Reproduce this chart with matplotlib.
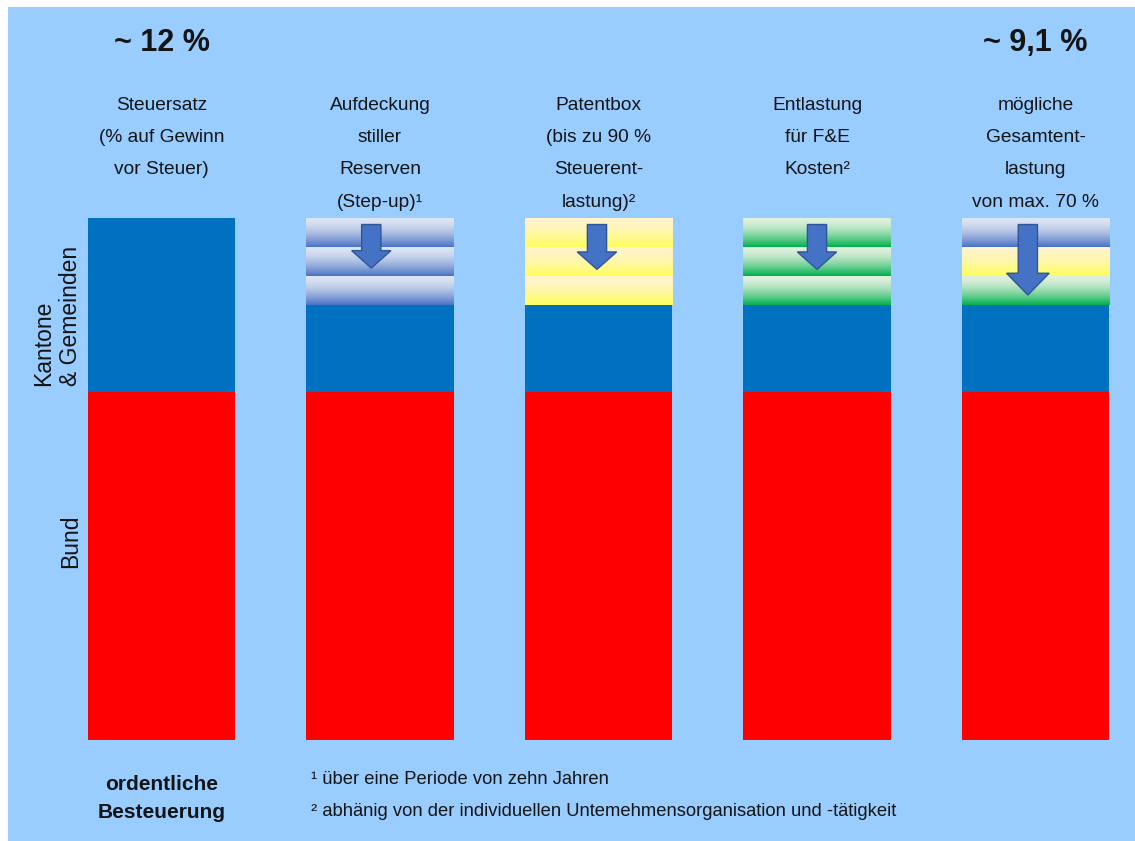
import numpy as np
import matplotlib
matplotlib.use("Agg")
import matplotlib.pyplot as plt
from matplotlib.transforms import blended_transform_factory
from matplotlib.colors import to_rgb

# ---------------- data ----------------
categories = [
    "Steuersatz\n(% auf Gewinn\nvor Steuer)",
    "Aufdeckung\nstiller\nReserven\n(Step-up)¹",
    "Patentbox\n(bis zu 90 %\nSteuerent-\nlastung)²",
    "Entlastung\nfür F&E\nKosten²",
    "mögliche\nGesamtent-\nlastung\nvon max. 70 %",
]
bund = [8.0, 8.0, 8.0, 8.0, 8.0]                 # Bund share (% points)
kantone = [4.0, 2.0, 2.0, 2.0, 2.0]              # Kantone & Gemeinden remaining
entlastung = [0.0, 2.0, 2.0, 2.0, 2.0]           # relief part (striped)
stripe_kinds = [[], ["blue"] * 3, ["yellow"] * 3, ["green"] * 3,
                ["blue", "yellow", "green"]]
top_labels = ["~ 12 %", "", "", "", "~ 9,1 %"]
bottom_label = "ordentliche\nBesteuerung"
footnotes = ["¹ über eine Periode von zehn Jahren",
             "² abhänig von der individuellen Untemehmensorganisation und -tätigkeit"]
ylabels = ["Kantone\n& Gemeinden", "Bund"]

# ---------------- style ----------------
BG = "#99CCFF"
RED = "#FF0000"
BLUE = "#0070C0"
TXT = "#141414"
grad = {
    "blue": ("#DDE5F3", "#4A72C4"),
    "yellow": ("#FFF4CC", "#FFFF5A"),
    "green": ("#E0F1DE", "#00B04E"),
}
FONT = ["Liberation Sans", "DejaVu Sans"]
plt.rcParams["font.family"] = FONT

W, H = 1135, 841
fig = plt.figure(figsize=(W / 100, H / 100), dpi=100, facecolor="white")
# light blue panel with white margin left/top
fig.patches.append(plt.Rectangle((8 / W, 0), 1 - 8 / W, 1 - 7 / H,
                                 transform=fig.transFigure, facecolor=BG,
                                 edgecolor="none", zorder=-10))

x = np.arange(len(categories))
ax = fig.add_axes([74.1 / W, (H - 740) / H, (1122.9 - 74.1) / W, 522 / H])
ax.set_facecolor("none")
bw = 0.673

ax.bar(x, bund, width=bw, color=RED, linewidth=0)
ax.bar(x, kantone, bottom=bund, width=bw, color=BLUE, linewidth=0)

def gradient_img(c_top, c_bot, n=64, gamma=1.6):
    t = np.linspace(0, 1, n) ** gamma
    a, b = np.array(to_rgb(c_top)), np.array(to_rgb(c_bot))
    return (a[None, :] * (1 - t[:, None]) + b[None, :] * t[:, None])[:, None, :]

for i, kinds in enumerate(stripe_kinds):
    if not kinds:
        continue
    h = entlastung[i] / len(kinds)
    base = bund[i] + kantone[i]
    for j, k in enumerate(kinds[::-1]):
        b0 = base + j * h
        bars = ax.bar(x[i], h, bottom=b0, width=bw, color=grad[k][1], linewidth=0)
        p = bars.patches[0]
        im = ax.imshow(gradient_img(*grad[k]), extent=(x[i] - bw / 2, x[i] + bw / 2, b0, b0 + h),
                       origin="upper", aspect="auto", interpolation="bilinear", zorder=2)
        im.set_clip_path(p)

# arrows (relief indicators)
arrow_len = [0, 1.0, 1.03, 1.03, 1.62]
arrow_dx = [0, -0.04, -0.007, 0.0, -0.035]
for i in range(1, len(categories)):
    total = bund[i] + kantone[i] + entlastung[i]
    y0 = total - 0.15
    L = arrow_len[i]
    hl = 0.40 if i < 4 else 0.5
    ax.add_patch(matplotlib.patches.FancyArrow(
        x[i] + arrow_dx[i], y0, 0, -L, width=0.088, head_width=0.18 if i < 4 else 0.195,
        head_length=hl, length_includes_head=True, facecolor="#4472C4",
        edgecolor="#2F5597", linewidth=1.0, zorder=5))

ax.set_xlim(-0.4, len(categories) - 0.6)
ax.set_ylim(0, 12)
ax.axis("off")

tr = blended_transform_factory(ax.transData, fig.transFigure)
def fy(py):
    return 1 - py / H

for i, lab in enumerate(categories):
    ax.text(x[i], fy(97), lab, transform=tr, ha="center", va="top",
            fontsize=13.8, color=TXT, linespacing=2.17, multialignment="center")
for i, lab in enumerate(top_labels):
    if lab:
        ax.text(x[i], fy(43), lab, transform=tr, ha="center", va="center",
                fontsize=22, fontweight="bold", color=TXT)

ax.text(x[0], fy(798), bottom_label, transform=tr, ha="center", va="center",
        fontsize=15, fontweight="bold", color=TXT, linespacing=1.6)

for k, fn in enumerate(footnotes):
    fig.text(311 / W, fy(780 + 31 * k), fn, ha="left", va="center",
             fontsize=13.2, color=TXT)

fig.text(57 / W, fy(386), ylabels[0], rotation=90, ha="center", va="bottom",
         fontsize=16.5, color=TXT, multialignment="left", linespacing=1.22)
fig.text(71 / W, fy(568), ylabels[1], rotation=90, ha="center", va="bottom",
         fontsize=16.5, color=TXT)

fig.savefig("out.png", dpi=100, facecolor="white")
